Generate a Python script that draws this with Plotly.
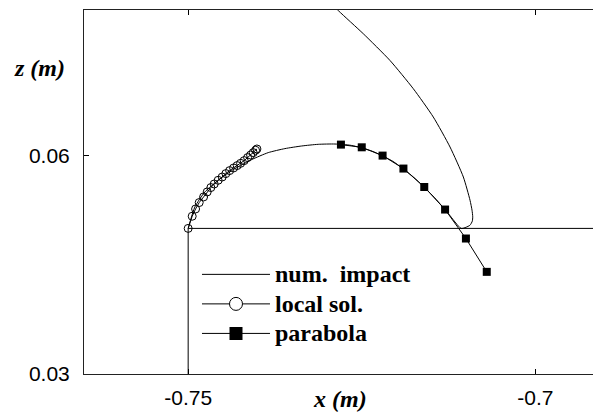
import plotly.graph_objects as go

# Wall / step geometry (m)
wall_x = [-0.75, -0.75, -0.68]
wall_z = [0.03, 0.05, 0.05]

# Numerical impact trajectory (m)
impact_x = [-0.75, -0.74903, -0.74759, -0.74568, -0.74327, -0.74086, -0.73847,
            -0.73607, -0.73366, -0.73127, -0.72886, -0.7265, -0.7235, -0.7205,
            -0.7175, -0.7145, -0.7125, -0.7107, -0.7100, -0.70941, -0.70908,
            -0.70902, -0.70912, -0.70941, -0.71037, -0.71229, -0.71470,
            -0.71758, -0.72094, -0.72478, -0.72839, -0.7310]
impact_z = [0.0500, 0.05295, 0.05501, 0.05661, 0.05822, 0.05945, 0.06041,
            0.06096, 0.06132, 0.06155, 0.06159, 0.0614, 0.0606, 0.0592,
            0.0570, 0.0542, 0.0520, 0.0500, 0.05015, 0.05044, 0.0510,
            0.05158, 0.0525, 0.05387, 0.05706, 0.06118, 0.06530,
            0.06919, 0.07307, 0.07674, 0.07993, 0.0825]

# Local solution
local_x = [-0.75, -0.74942, -0.74893, -0.74841, -0.74778, -0.74726, -0.74673,
           -0.74625, -0.74568, -0.74510, -0.74457, -0.74403, -0.74346, -0.74294,
           -0.74245, -0.74193, -0.74144, -0.74101, -0.74063, -0.74029, -0.74010]
local_z = [0.0500, 0.05167, 0.05267, 0.05355, 0.05432, 0.05501, 0.05561,
           0.05610, 0.05661, 0.05706, 0.05753, 0.05794, 0.05830, 0.05863,
           0.05894, 0.05931, 0.05973, 0.06008, 0.06041, 0.06073, 0.06091]

# Parabola
para_x = [-0.728, -0.725, -0.722, -0.719, -0.716, -0.713, -0.710, -0.707]
para_z = [0.06151, 0.06114, 0.0600, 0.05822, 0.05569, 0.05259, 0.04861, 0.04403]

names = ["num.  impact", "local sol.", "parabola"]

x_ticks = [-0.75, -0.7]
x_labels = ["-0.75", "-0.7"]
z_ticks = [0.03, 0.06]
z_labels = ["0.03", "0.06"]


def legend_label(s):
    return '<span style="font-size:24px"><b>' + s + '</b></span>'


LW = 1
fig = go.Figure()

fig.add_trace(go.Scatter(x=wall_x, y=wall_z, mode="lines",
                         line=dict(color="black", width=LW), showlegend=False))
fig.add_trace(go.Scatter(x=impact_x, y=impact_z, mode="lines",
                         line=dict(color="black", width=LW, shape="spline", smoothing=0.6),
                         showlegend=False))
fig.add_trace(go.Scatter(x=local_x, y=local_z, mode="lines+markers",
                         line=dict(color="black", width=LW),
                         marker=dict(symbol="circle-open", size=8, color="black",
                                     line=dict(width=1, color="black")),
                         showlegend=False))
fig.add_trace(go.Scatter(x=para_x, y=para_z, mode="lines+markers",
                         line=dict(color="black", width=LW),
                         marker=dict(symbol="square", size=8, color="black"),
                         showlegend=False))

# Legend entries with larger glyphs
fig.add_trace(go.Scatter(x=[None], y=[None], mode="lines", name=legend_label(names[0]),
                         line=dict(color="black", width=LW)))
fig.add_trace(go.Scatter(x=[None], y=[None], mode="lines+markers", name=legend_label(names[1]),
                         line=dict(color="black", width=LW),
                         marker=dict(symbol="circle", size=13, color="white",
                                     line=dict(width=1, color="black"))))
fig.add_trace(go.Scatter(x=[None], y=[None], mode="lines+markers", name=legend_label(names[2]),
                         line=dict(color="black", width=LW),
                         marker=dict(symbol="square", size=13, color="black")))

tick_font = dict(family="Liberation Sans, Arial, sans-serif", size=21, color="black")

fig.update_xaxes(range=[-0.765, -0.6917], tickvals=x_ticks, ticktext=x_labels,
                 ticks="inside", ticklen=5, tickcolor="black", showgrid=False,
                 zeroline=False, showline=True, linecolor="#222", linewidth=1,
                 mirror="ticks", tickfont=tick_font, ticklabelstandoff=5)
fig.update_yaxes(range=[0.03, 0.08], tickvals=z_ticks, ticktext=z_labels,
                 ticks="inside", ticklen=5, tickcolor="black", showgrid=False,
                 zeroline=False, showline=True, linecolor="#222", linewidth=1,
                 mirror=False, tickfont=tick_font, ticklabelstandoff=9)

title_font = dict(family="Liberation Serif, Times New Roman, serif", size=24, color="black")
fig.add_annotation(text="<b><i>z (m)</i></b>", xref="paper", yref="paper",
                   x=-0.0874, y=0.8407, xanchor="center", yanchor="middle",
                   showarrow=False, font=title_font)
fig.add_annotation(text="<b><i>x (m)</i></b>", xref="paper", yref="paper",
                   x=0.503, y=-0.068, xanchor="center", yanchor="middle",
                   showarrow=False, font=title_font)

fig.update_layout(
    width=593, height=412,
    margin=dict(l=84, r=0, t=10, b=38),
    plot_bgcolor="white", paper_bgcolor="white",
    legend=dict(x=0.222, y=0.328, xanchor="left", yanchor="top",
                bgcolor="rgba(0,0,0,0)", itemwidth=68,
                font=dict(family="Liberation Serif, Times New Roman, serif",
                          size=20.4, color="black"),
                tracegroupgap=0),
)

fig.write_html("out.html")
